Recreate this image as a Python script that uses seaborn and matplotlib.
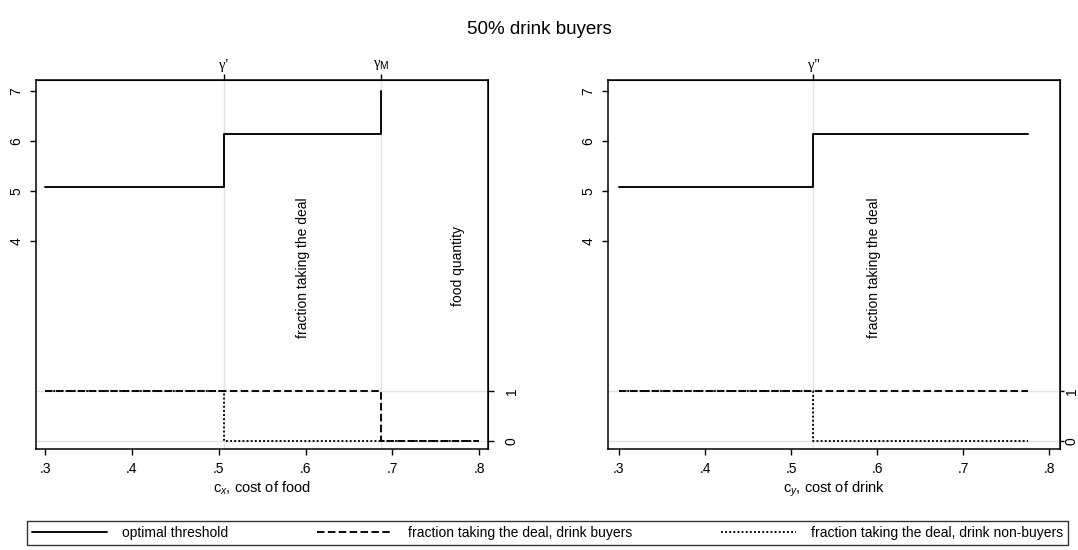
import matplotlib
matplotlib.use("Agg")
import matplotlib.pyplot as plt
import seaborn as sns

# Step-function breakpoints (value holds until the next breakpoint)
food_cost = [0.30, 0.506, 0.687]
food_threshold = [5.08, 6.15, 7.0]
food_buyers_x = [0.30, 0.687, 0.80]
food_buyers = [1, 0, 0]
food_nonbuyers_x = [0.30, 0.506, 0.80]
food_nonbuyers = [1, 0, 0]

drink_cost = [0.30, 0.526, 0.775]
drink_threshold = [5.08, 6.15, 6.15]
drink_buyers_x = [0.30, 0.775]
drink_buyers = [1, 1]
drink_nonbuyers_x = [0.30, 0.526, 0.775]
drink_nonbuyers = [1, 0, 0]

gamma_food = [0.506, 0.687]
gamma_food_labels = ["γ'", r"γ$_{\mathrm{M}}$"]
gamma_drink = [0.526]
gamma_drink_labels = ["γ''"]

x_ticks = [0.3, 0.4, 0.5, 0.6, 0.7, 0.8]
x_tick_labels = [".3", ".4", ".5", ".6", ".7", ".8"]
left_ticks = [4, 5, 6, 7]
right_ticks = [0, 1]

series_labels = ["optimal threshold",
                 "fraction taking the deal, drink buyers",
                 "fraction taking the deal, drink non-buyers"]

sns.set_style("ticks")
plt.rcParams["font.family"] = ["Liberation Sans", "DejaVu Sans"]
plt.rcParams["mathtext.fontset"] = "custom"
plt.rcParams["mathtext.rm"] = "Liberation Sans"
plt.rcParams["mathtext.it"] = "Liberation Sans:italic"
for key in ["text.color", "axes.labelcolor", "xtick.color", "ytick.color",
            "axes.edgecolor"]:
    plt.rcParams[key] = "black"

SOLID = "-"
DASH = (0, (4.0, 1.8))
DOT = (0, (1.0, 1.2))
LW = 1.35
GRID = "#e3e3e3"

fig = plt.figure(figsize=(10.78, 5.5), dpi=100)
ax1 = fig.add_axes([0.0334, 0.1836, 0.4193, 0.6709])
ax2 = fig.add_axes([0.564, 0.1836, 0.4190, 0.6709])


def step(ax, x, y, ls):
    sns.lineplot(x=x, y=y, ax=ax, color="black", lw=LW, linestyle=ls,
                 drawstyle="steps-post", estimator=None, sort=False,
                 legend=False)
    return ax.lines[-1]


def panel(ax, gammas, gamma_labels, xlabel, xlim, series, right_len,
          right_pad):
    for g in gammas:
        ax.axvline(g, color=GRID, lw=1.0, zorder=0)
    for h in right_ticks:
        ax.axhline(h, color=GRID, lw=1.0, zorder=0)
    handles = [step(ax, x, y, ls) for (x, y, ls) in series]
    ax.set_xlim(*xlim)
    ax.set_ylim(-0.16, 7.22)
    ax.set_xticks(x_ticks)
    ax.set_xticklabels(x_tick_labels, fontsize=10)
    ax.set_yticks(left_ticks)
    ax.set_yticklabels([str(t) for t in left_ticks], rotation=90,
                       va="center", fontsize=10)
    ax.set_xlabel(xlabel, fontsize=10.5, labelpad=3)
    ax.tick_params(direction="out", length=4, width=1.0, color="black",
                   labelcolor="black", pad=5)
    for sp in ax.spines.values():
        sp.set_visible(True)
        sp.set_color("black")
        sp.set_linewidth(1.1)

    top = ax.secondary_xaxis("top")
    top.set_xticks(gammas)
    top.set_xticklabels(gamma_labels, fontsize=10.5,
                        family=["Liberation Serif", "DejaVu Serif"])
    top.tick_params(direction="out", length=4, width=1.0, pad=2)

    right = ax.secondary_yaxis("right")
    right.set_yticks(right_ticks)
    right.set_yticklabels([str(t) for t in right_ticks], rotation=90,
                          va="center", fontsize=10)
    right.tick_params(direction="out", length=right_len, width=1.0,
                      pad=right_pad)
    return handles


h = panel(ax1, gamma_food, gamma_food_labels, r"c$_{x}$, cost of food",
          (0.2896, 0.810),
          [(food_cost, food_threshold, SOLID),
           (food_buyers_x, food_buyers, DASH),
           (food_nonbuyers_x, food_nonbuyers, DOT)], 4, 8)
ax1.text(0.597, 3.46, "fraction taking the deal", rotation=90,
         ha="center", va="center", fontsize=10)
ax1.text(0.775, 3.5, "food quantity", rotation=90,
         ha="center", va="center", fontsize=10)

panel(ax2, gamma_drink, gamma_drink_labels, r"c$_{y}$, cost of drink",
      (0.2873, 0.812),
      [(drink_cost, drink_threshold, SOLID),
       (drink_buyers_x, drink_buyers, DASH),
       (drink_nonbuyers_x, drink_nonbuyers, DOT)], 3, 0.5)
ax2.text(0.596, 3.46, "fraction taking the deal", rotation=90,
         ha="center", va="center", fontsize=10)

fig.suptitle("50% drink buyers", y=0.962, fontsize=13.5)

leg = fig.legend(h, series_labels, loc="lower left",
                 bbox_to_anchor=(27 / 1078, 1 - 545 / 550,
                                 (1068 - 27) / 1078, 27 / 550),
                 mode="expand", ncol=3, fancybox=False, frameon=True,
                 borderaxespad=0, handlelength=5.4, fontsize=10,
                 borderpad=0.35, handletextpad=1.1)
leg.get_frame().set_edgecolor("black")
leg.get_frame().set_linewidth(1.0)

fig.savefig("out.png", dpi=100)
